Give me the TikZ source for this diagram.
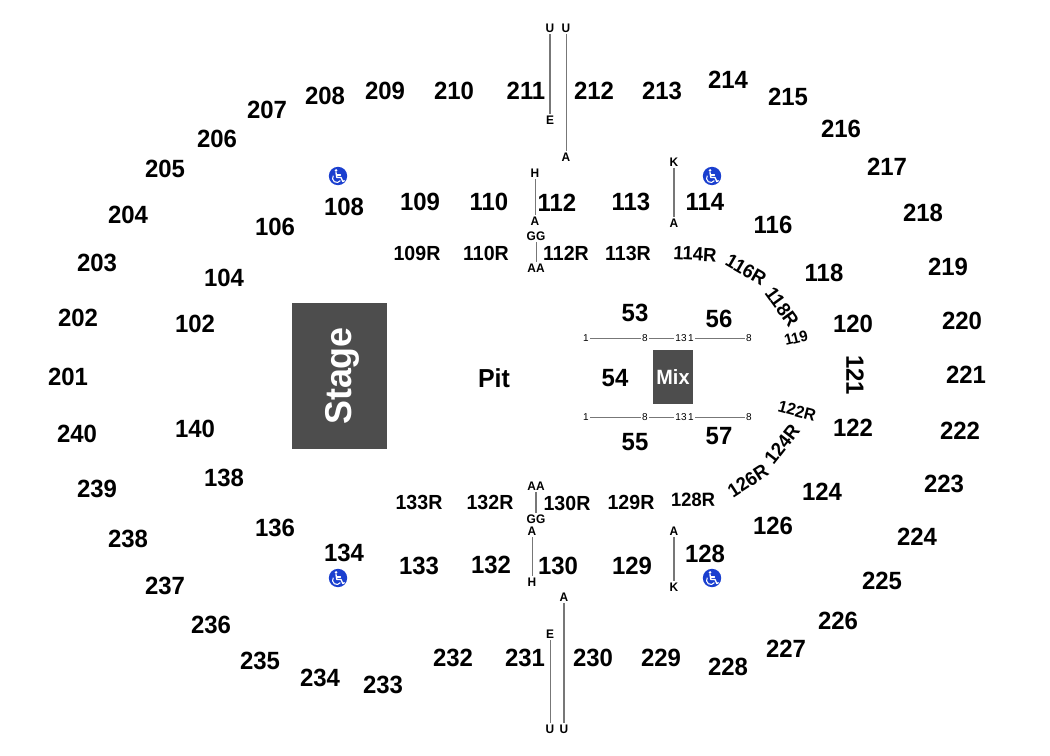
\documentclass[tikz,border=0pt]{standalone}
\usepackage{fontspec}
\setmainfont{Liberation Sans}[BoldFeatures={FakeStretch=0.96}]
\definecolor{blockgrey}{HTML}{4D4D4D}
\definecolor{linegrey}{HTML}{777777}
\definecolor{access}{HTML}{1A3FCF}
\tikzset{
  secbig/.style={inner sep=0pt,text=black,font=\fontsize{18.7}{19}\selectfont\bfseries},
  secmid/.style={inner sep=0pt,text=black,font=\fontsize{15.3}{16}\selectfont\bfseries},
  secturn/.style={inner sep=0pt,text=black,font=\fontsize{14.4}{15}\selectfont\bfseries},
  rowlab/.style={inner sep=1pt,text=black,font=\fontsize{9.3}{10}\selectfont\bfseries},
  seatlab/.style={inner sep=1pt,text=black,font=\fontsize{7.5}{8}\selectfont},
  aisle/.style={draw=linegrey,line width=0.95pt},
  aislethin/.style={draw=linegrey,line width=0.65pt},
  block/.style={fill=blockgrey,draw=none},
  blocktext/.style={inner sep=0pt,text=white},
  wheel/.pic={
    \fill[access] (0,0) circle (9.2);
    \fill[white] (-2,-5.6) circle (1.4);
    \draw[white,line width=1pt,line cap=round,line join=round]
      (-2,-3.5) -- (-1.2,1.5) -- (3,1.5) -- (4.8,5.5) -- (6.3,4.8);
    \draw[white,line width=0.8pt,line cap=round] (-1.6,-1) -- (2.5,-1);
    \draw[white,line width=0.8pt] (-1.2,2.2) ++(215:4.3) arc[start angle=215,end angle=35,x radius=4.3,y radius=4.3];
  }
}
\begin{document}
\begin{tikzpicture}[x=0.75pt,y=-0.75pt]
\useasboundingbox (0,0) rectangle (1050,756);
% blocks
\path[block] (292,303) rectangle (387,449);
\path[block] (653,350) rectangle (693,404);
\node[blocktext,font=\fontsize{28}{29}\selectfont\bfseries,rotate=90] (stage) at (342,376) {Stage};
\node[blocktext,font=\fontsize{15.5}{17}\selectfont\bfseries] (mix) at (673,377) {Mix};
\node[secbig,font=\fontsize{19.5}{21}\selectfont\bfseries] (pit) at (494,378) {Pit};
% 200 level and 100 level
\foreach \t/\x/\y in {201/68/377,202/78/318,203/97/263,204/128/215,205/165/169,206/217/139,207/267/110,208/325/96,209/385/91,210/454/91,211/526/91,212/594/91,213/662/91,214/728/80,215/788/97,216/841/129,217/887/167,218/923/213,219/948/267,220/962/321,221/966/375,222/960/431,223/944/484,224/917/537,225/882/581,226/838/621,227/786/649,228/728/667,229/661/658,230/593/658,231/525/658,232/453/658,233/383/685,234/320/678,235/260/661,236/211/625,237/165/586,238/128/539,239/97/489,240/77/434,
102/195/324,104/224/278,106/275/227,108/344/207,109/420/202,110/489/202,112/557/203,113/631/202,114/705/202,116/773/225,118/824/273,120/853/324,122/853/428,124/822/492,126/773/526,128/705/554,129/632/566,130/558/566,132/491/565,133/419/566,134/344/553,136/275/528,138/224/478,140/195/429,
53/635/313,56/719/319,54/615/378,55/635/442,57/719/436}
  \node[secbig] (s\t) at (\x,\y) {\t};
\node[secbig,rotate=-90] (s121) at (855,375) {121};
% R sections
\foreach \t/\x/\y in {109R/417/253,110R/486/253,112R/566/253,113R/628/253,129R/631/502,130R/567/503,132R/490/502,133R/419/502}
  \node[secmid] (s\t) at (\x,\y) {\t};
\foreach \t/\x/\y/\r in {114R/695/254/-3,116R/746/270/-30,118R/782/307/-54,124R/782/444/52,126R/748/481/33,128R/693/500/1}
  \node[secturn,rotate=\r] (s\t) at (\x,\y) {\t};
\node[secturn,font=\fontsize{11.5}{12}\selectfont\bfseries,rotate=14] (s119) at (796,338) {119};
\node[secturn,font=\fontsize{12.5}{13}\selectfont\bfseries,rotate=-15] (s122R) at (797,411) {122R};
% row labels
\foreach \n/\t/\x/\y in {ua/U/550/28,ub/U/566/28,ea/E/550/120,aa/A/566/157,ha/H/535/173,ab/A/535/221,gga/GG/536/236,aaa/AA/536/268,ka/K/674/162,ac/A/674/223,
aab/AA/536/486,ggb/GG/536/519,ad/A/532/531,hb/H/532/582,ae/A/674/531,kb/K/674/587,af/A/564/597,eb/E/550/634,uc/U/550/729,ud/U/564/729}
  \node[rowlab] (\n) at (\x,\y) {\t};
% seat labels
\foreach \n/\t/\x/\y in {ta/1/586/338,tb/8/645/338,tc/13/681/338,td/1/691/338,te/8/749/338,ba/1/586/417,bb/8/645/417,bc/13/681/417,bd/1/691/417,be/8/749/417}
  \node[seatlab] (\n) at (\x,\y) {\t};
% aisles
\draw[aisle] (ua) -- (ea);
\draw[aislethin] (ub) -- (aa);
\draw[aislethin] (ha) -- (ab);
\draw[aislethin] (gga) -- (aaa);
\draw[aisle] (ka) -- (ac);
\draw[aisle] (aab) -- (ggb);
\draw[aislethin] (ad) -- (hb);
\draw[aisle] (ae) -- (kb);
\draw[aisle] (af) -- (ud);
\draw[aislethin] (eb) -- (uc);
\draw[aislethin] (ta) -- (tb);
\draw[aislethin] (tb) -- (tc);
\draw[aislethin] (td) -- (te);
\draw[aislethin] (ba) -- (bb);
\draw[aislethin] (bb) -- (bc);
\draw[aislethin] (bd) -- (be);
% access icons
\pic at (338,176) {wheel};
\pic at (712,176) {wheel};
\pic at (338,578) {wheel};
\pic at (712,578) {wheel};
\end{tikzpicture}
\end{document}
